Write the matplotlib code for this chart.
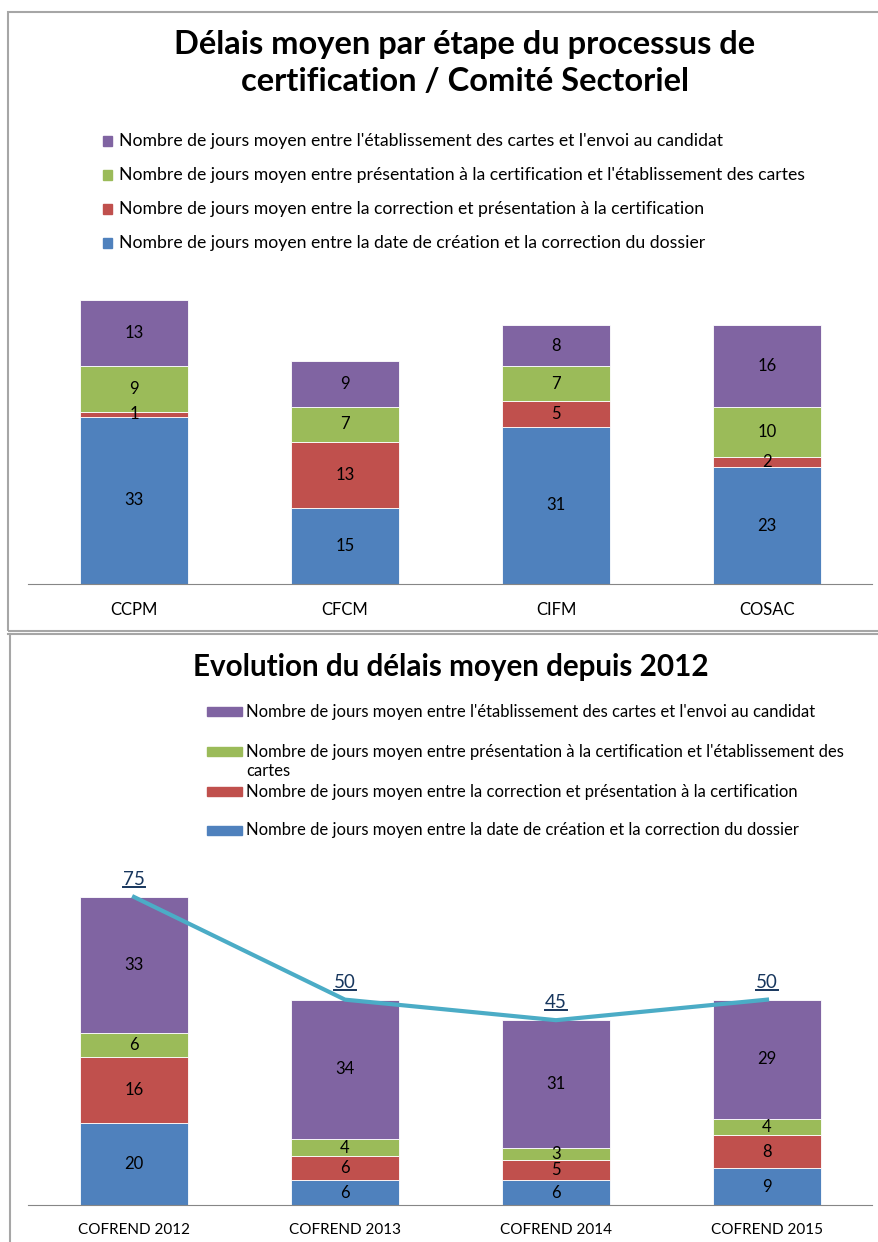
"""Délais moyens par étape de certification (comités + évolution COFREND)."""
import matplotlib
matplotlib.use("Agg")
import matplotlib.pyplot as plt
from matplotlib.lines import Line2D
from matplotlib.patches import Rectangle
import numpy as np

plt.rcParams["font.family"] = ["Lato", "DejaVu Sans"]

W, H = 879, 1242

COLORS = ["#4F81BD", "#C0504D", "#9BBB59", "#8064A2"]
SERIES = [
    "Nombre de jours moyen entre la date de création et la correction du dossier",
    "Nombre de jours moyen entre la correction et présentation à la certification",
    "Nombre de jours moyen entre présentation à la certification et l'établissement des cartes",
    "Nombre de jours moyen entre l'établissement des cartes et l'envoi au candidat",
]

comites = ["CCPM", "CFCM", "CIFM", "COSAC"]
comite_creation = [33, 15, 31, 23]
comite_correction = [1, 13, 5, 2]
comite_presentation = [9, 7, 7, 10]
comite_envoi = [13, 9, 8, 16]

annees = ["COFREND 2012", "COFREND 2013", "COFREND 2014", "COFREND 2015"]
annee_creation = [20, 6, 6, 9]
annee_correction = [16, 6, 5, 8]
annee_presentation = [6, 4, 3, 4]
annee_envoi = [33, 34, 31, 29]
annee_total = [75, 50, 45, 50]


def fx(x):
    return x / W


def fy(y):
    return 1 - y / H


def stacked(ax, cats, series, tick_size):
    x = np.arange(len(cats))
    bottom = np.zeros(len(cats))
    for vals, col in zip(series, COLORS):
        bars = ax.bar(x, vals, 0.51, bottom=bottom, color=col,
                      edgecolor="white", linewidth=0.6, zorder=2)
        ax.bar_label(bars, label_type="center", fontsize=12, color="black")
        bottom += np.array(vals)
    ax.set_xticks(x)
    ax.set_xticklabels(cats, fontsize=tick_size)
    ax.set_xlim(-0.5, len(cats) - 0.5)
    ax.set_yticks([])
    ax.tick_params(axis="x", length=0, pad=13)
    for s in ["top", "left", "right"]:
        ax.spines[s].set_visible(False)
    ax.spines["bottom"].set_color("#868686")
    return x


fig = plt.figure(figsize=(W / 100, H / 100), dpi=100)

# panel frames
fig.add_artist(Rectangle((fx(8), fy(631)), fx(900 - 8), (631 - 12) / H,
                         transform=fig.transFigure, fill=False,
                         edgecolor="#A6A6A6", linewidth=1.5))
fig.add_artist(Line2D([fx(8), 1], [fy(634), fy(634)], transform=fig.transFigure,
                      color="#A6A6A6", linewidth=1.5))
fig.add_artist(Line2D([fx(10), fx(10)], [fy(634), 0], transform=fig.transFigure,
                      color="#A6A6A6", linewidth=1.5))

# ---- top chart
ax1 = fig.add_axes([fx(28.5), fy(584), 844 / W, (584 - 270) / H])
stacked(ax1, comites, [comite_creation, comite_correction,
                       comite_presentation, comite_envoi], 12)
ax1.set_ylim(0, 314 / 5.07)

fig.text(fx(465), fy(63), "Délais moyen par étape du processus de\ncertification / Comité Sectoriel",
         ha="center", va="center", fontsize=23.5, fontweight="bold", linespacing=1.3)

for i, y in enumerate([141, 175, 209, 243]):
    k = 3 - i
    fig.add_artist(Rectangle((fx(103), fy(y + 4.5)), 9 / W, 9 / H,
                             transform=fig.transFigure, color=COLORS[k]))
    fig.text(fx(119), fy(y), SERIES[k], ha="left", va="center", fontsize=12.7)

# ---- bottom chart
ax2 = fig.add_axes([fx(28.5), fy(1205), 844 / W, (1205 - 860) / H])
x2 = stacked(ax2, annees, [annee_creation, annee_correction,
                           annee_presentation, annee_envoi], 11)
ax2.set_ylim(0, 345 / 4.107)
ax2.plot(x2, annee_total, color="#4BACC6", linewidth=3, zorder=3, clip_on=False)
labels = []
for xi, t in zip(x2, annee_total):
    labels.append(ax2.annotate(str(t), (xi, t), xytext=(0, 6.5), textcoords="offset points",
                               ha="center", va="bottom", fontsize=13.5, color="#17365D"))

fig.text(fx(451), fy(667), "Evolution du délais moyen depuis 2012",
         ha="center", va="center", fontsize=21.3, fontweight="bold")

wrapped = list(SERIES)
wrapped[2] = "Nombre de jours moyen entre présentation à la certification et l'établissement des\ncartes"
for i, y in enumerate([711, 751, 791, 830]):
    k = 3 - i
    fig.add_artist(Rectangle((fx(207), fy(y + 4.5)), 35 / W, 9 / H,
                             transform=fig.transFigure, color=COLORS[k]))
    fig.text(fx(246), fy(y - 7.5), wrapped[k], ha="left", va="top", fontsize=12,
             linespacing=1.3)

# underline the total labels
fig.canvas.draw()
inv = fig.transFigure.inverted()
for t in labels:
    bb = t.get_window_extent()
    (x0, y0), (x1, _) = inv.transform([(bb.x0, bb.y0), (bb.x1, bb.y1)])
    fig.add_artist(Line2D([x0, x1], [y0 + 1 / H, y0 + 1 / H], transform=fig.transFigure,
                          color="#17365D", linewidth=1.4))

fig.savefig("out.png", dpi=100)
